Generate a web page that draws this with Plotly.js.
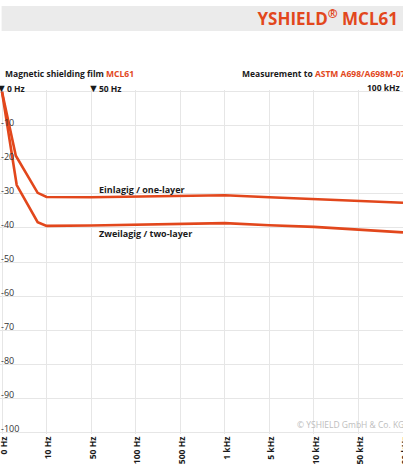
<!DOCTYPE html>
<html>
<head>
<meta charset="utf-8">
<script src="https://cdn.plot.ly/plotly-3.0.1.min.js"></script>
<style>
html,body{margin:0;padding:0;background:#fff;overflow:hidden;}
#chart{width:403px;height:466px;}
</style>
</head>
<body>
<div id="chart"></div>
<script>
// Category tick labels (evenly spaced frequency categories)
var freqLabels = ['0 Hz','10 Hz','50 Hz','100 Hz','500 Hz','1 kHz','5 kHz','10 kHz','50 kHz','100 kHz'];
var freqTicks = [0,1,2,3,4,5,6,7,8,9];
// Measured points: position on the category axis (index units) and attenuation in dB
var onePos    = [0, 0.31, 0.8, 1, 2, 3, 4, 5, 6, 7, 8, 9];
var oneLayer  = [0, -18.8, -29.7, -30.9, -31.0, -30.8, -30.6, -30.4, -31.0, -31.6, -32.0, -32.6];
var twoPos    = [0, 0.33, 0.8, 1, 2, 3, 4, 5, 6, 7, 8, 9];
var twoLayer  = [0, -27.4, -38.3, -39.4, -39.3, -39.0, -38.7, -38.6, -39.2, -39.7, -40.5, -41.3];
var yTicks = [0,-10,-20,-30,-40,-50,-60,-70,-80,-90,-100];
var yLabels = ['','-10','-20','-30','-40','-50','-60','-70','-80','-90','-100'];

var RED = '#e2471c';
var FONT = 'Open Sans, Noto Sans, sans-serif';
var TOP = 90, BOT = 32, H = 466 - TOP - BOT;

var traces = [
  {x: onePos, y: oneLayer, mode: 'lines', line: {color: RED, width: 2.6}, hoverinfo: 'skip'},
  {x: twoPos, y: twoLayer, mode: 'lines', line: {color: RED, width: 2.6}, hoverinfo: 'skip'}
];

function px2py(py){ return (466 - BOT - py) / H; }
function px2px(px){ return px / 403; }
var TRI = '<span style="font-size:11px">▼</span>';

var layout = {
  width: 403, height: 466,
  margin: {l: 0, r: 0, t: TOP, b: BOT, pad: 0},
  paper_bgcolor: '#fff', plot_bgcolor: '#fff',
  showlegend: false,
  font: {family: FONT, color: '#1a1a1a'},
  title: {
    text: 'YSHIELD<sup>®</sup> MCL61',
    font: {family: FONT, size: 17, color: RED, weight: 'bold'},
    x: 398/403, xanchor: 'right', xref: 'container',
    y: 1 - 19/466, yanchor: 'middle', yref: 'container'
  },
  xaxis: {
    range: [-0.045, 9.0],
    tickvals: freqTicks, ticktext: freqLabels,
    tickangle: -90,
    ticklabeloverflow: 'allow',
    ticklabelshift: 2,
    tickfont: {family: FONT, size: 8.5, color: '#1a1a1a', weight: 'bold'},
    showgrid: true, gridcolor: '#e6e6e6', gridwidth: 1,
    zeroline: false, showline: false, ticks: '', fixedrange: true
  },
  yaxis: {
    range: [-100.5, 0.5],
    tickvals: yTicks, ticktext: yLabels,
    ticklabelposition: 'inside',
    ticklabelshift: -3,
    ticklabelstandoff: -2,
    ticklabeloverflow: 'allow',
    tickfont: {family: FONT, size: 9, color: '#333'},
    showgrid: true, gridcolor: '#e6e6e6', gridwidth: 1,
    zeroline: false, showline: false, ticks: '', fixedrange: true
  },
  shapes: [
    {type: 'rect', xref: 'paper', yref: 'paper', x0: 0.004, x1: 1, y0: px2py(31), y1: px2py(6),
     fillcolor: '#ebebeb', line: {width: 0}, layer: 'below'}
  ],
  annotations: [
    {xref: 'paper', yref: 'paper', x: px2px(3), y: px2py(74), xanchor: 'left', yanchor: 'middle', showarrow: false,
     text: 'Magnetic shielding film <span style="color:' + RED + '">MCL61</span>',
     font: {family: FONT, size: 8.5, color: '#1a1a1a', weight: 'bold'}},
    {xref: 'paper', yref: 'paper', x: px2px(240), y: px2py(74), xanchor: 'left', yanchor: 'middle', showarrow: false,
     text: 'Measurement to <span style="color:' + RED + '">ASTM A698/A698M-07</span>',
     font: {family: FONT, size: 8.5, color: '#1a1a1a', weight: 'bold'}},
    {xref: 'x', yref: 'paper', x: freqTicks[0], xshift: -8, y: px2py(87), xanchor: 'left', yanchor: 'middle', showarrow: false,
     text: TRI + freqLabels[0],
     font: {family: FONT, size: 8.5, color: '#1a1a1a', weight: 'bold'}},
    {xref: 'x', yref: 'paper', x: freqTicks[2], xshift: -5, y: px2py(87), xanchor: 'left', yanchor: 'middle', showarrow: false,
     text: TRI + freqLabels[2],
     font: {family: FONT, size: 8.5, color: '#1a1a1a', weight: 'bold'}},
    {xref: 'paper', yref: 'paper', x: px2px(402), y: px2py(87), xanchor: 'right', yanchor: 'middle', showarrow: false,
     text: freqLabels[9],
     font: {family: FONT, size: 8.5, color: '#1a1a1a', weight: 'bold'}},
    {xref: 'paper', yref: 'paper', x: px2px(97), y: px2py(189), xanchor: 'left', yanchor: 'middle', showarrow: false,
     text: 'Einlagig / one-layer',
     font: {family: FONT, size: 9, color: '#1a1a1a', weight: 'bold'}},
    {xref: 'paper', yref: 'paper', x: px2px(97), y: px2py(233), xanchor: 'left', yanchor: 'middle', showarrow: false,
     text: 'Zweilagig / two-layer',
     font: {family: FONT, size: 9, color: '#1a1a1a', weight: 'bold'}},
    {xref: 'paper', yref: 'paper', x: px2px(406), y: px2py(424), xanchor: 'right', yanchor: 'middle', showarrow: false,
     text: '© YSHIELD GmbH & Co. KG',
     font: {family: FONT, size: 8.5, color: '#bdbdbd'}}
  ]
};

Plotly.newPlot('chart', traces, layout, {displayModeBar: false, staticPlot: true});
</script>
</body>
</html>
